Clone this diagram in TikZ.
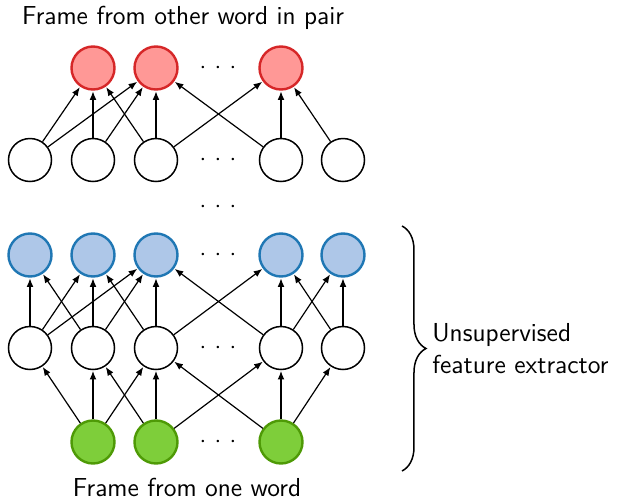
\documentclass[tikz,border=0pt]{standalone}
\usetikzlibrary{arrows.meta,decorations.pathreplacing}
\renewcommand\familydefault{\sfdefault}
\definecolor{redfill}{HTML}{FF9896}
\definecolor{redline}{HTML}{D62728}
\definecolor{bluefill}{HTML}{AEC7E8}
\definecolor{blueline}{HTML}{1F77B4}
\definecolor{greenfill}{HTML}{7ECE3A}
\definecolor{greenline}{HTML}{4E9A06}
\begin{document}
\begin{tikzpicture}[x=0.5pt,y=-0.5pt,
  unit/.style={circle,draw=black,line width=0.75pt,fill=white,minimum size=21.5pt,inner sep=0pt},
  redunit/.style={unit,draw=redline,fill=redfill,line width=1.2pt},
  blueunit/.style={unit,draw=blueline,fill=bluefill,line width=1.2pt},
  greenunit/.style={unit,draw=greenline,fill=greenfill,line width=1.2pt},
  conn/.style={-{Latex[length=4.3pt,width=3.4pt]},line width=0.6pt,shorten >=0.3pt},
  dotsnode/.style={inner sep=0pt,font=\fontsize{13}{16}\selectfont},
  lbl/.style={inner sep=0pt,font=\fontsize{13}{16}\selectfont,align=left}
]
\useasboundingbox (0,0) rectangle (618,499);
\newcommand\mydots{${\cdot}\kern4.2pt{\cdot}\kern4.2pt{\cdot}$}
% rows
\node[redunit] (r2) at (93,68) {};
\node[redunit] (r3) at (156,68) {};
\node[redunit] (r4) at (281,68) {};
\node[dotsnode] (dr) at (218,68) {\mydots};

\node[unit] (t1) at (30,160) {};
\node[unit] (t2) at (93,160) {};
\node[unit] (t3) at (156,160) {};
\node[unit] (t4) at (281,160) {};
\node[unit] (t5) at (343,160) {};
\node[dotsnode] (dt) at (218,160) {\mydots};

\node[dotsnode] (dm) at (218,207) {\mydots};

\node[blueunit] (b1) at (30,255) {};
\node[blueunit] (b2) at (93,255) {};
\node[blueunit] (b3) at (156,255) {};
\node[blueunit] (b4) at (281,255) {};
\node[blueunit] (b5) at (343,255) {};
\node[dotsnode] (db) at (218,255) {\mydots};

\node[unit] (m1) at (30,348) {};
\node[unit] (m2) at (93,348) {};
\node[unit] (m3) at (156,348) {};
\node[unit] (m4) at (281,348) {};
\node[unit] (m5) at (343,348) {};
\node[dotsnode] (dmm) at (218,348) {\mydots};

\node[greenunit] (g2) at (93,442) {};
\node[greenunit] (g3) at (156,442) {};
\node[greenunit] (g4) at (281,442) {};
\node[dotsnode] (dg) at (218,442) {\mydots};

% top connections
\draw[conn] (t1) -- (r2);
\draw[conn] (t1) -- (r3);
\draw[conn] (t2) -- (r2);
\draw[conn] (t2) -- (r3);
\draw[conn] (t3) -- (r2);
\draw[conn] (t3) -- (r3);
\draw[conn] (t3) -- (r4);
\draw[conn] (t4) -- (r3);
\draw[conn] (t4) -- (r4);
\draw[conn] (t5) -- (r4);

% middle connections
\draw[conn] (m1) -- (b1);
\draw[conn] (m2) -- (b1);
\draw[conn] (m1) -- (b2);
\draw[conn] (m2) -- (b2);
\draw[conn] (m3) -- (b2);
\draw[conn] (m1) -- (b3);
\draw[conn] (m2) -- (b3);
\draw[conn] (m3) -- (b3);
\draw[conn] (m4) -- (b3);
\draw[conn] (m3) -- (b4);
\draw[conn] (m4) -- (b4);
\draw[conn] (m5) -- (b4);
\draw[conn] (m4) -- (b5);
\draw[conn] (m5) -- (b5);

% bottom connections
\draw[conn] (g2) -- (m1);
\draw[conn] (g2) -- (m2);
\draw[conn] (g3) -- (m2);
\draw[conn] (g2) -- (m3);
\draw[conn] (g3) -- (m3);
\draw[conn] (g4) -- (m3);
\draw[conn] (g3) -- (m4);
\draw[conn] (g4) -- (m4);
\draw[conn] (g4) -- (m5);

% labels
\node[lbl] (top) at (183,18) {Frame from other word in pair};
\node[lbl] (bot) at (187,487) {Frame from one word};

% brace
\coordinate (bt) at (402,226);
\coordinate (bb) at (402,471);
\draw[line width=0.75pt,decorate,decoration={brace,amplitude=12pt}] (bt) -- (bb);
\node[lbl,anchor=west] (ufe) at (432,349) {Unsupervised\\feature extractor};
\end{tikzpicture}
\end{document}
